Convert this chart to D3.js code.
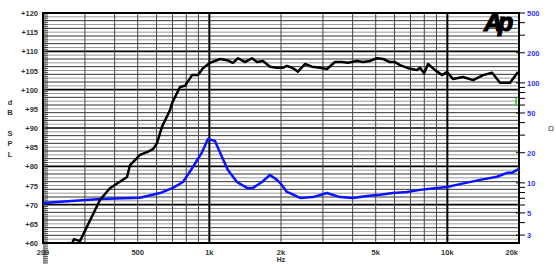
<!DOCTYPE html>
<html>
<head>
<meta charset="utf-8">
<script src="https://cdn.jsdelivr.net/npm/d3@7"></script>
<style>
body { margin: 0; background: #fff; }
text { font-family: "Liberation Sans", "DejaVu Sans", Arial, sans-serif; }
</style>
</head>
<body>
<script>
// SPL response (black), Hz / dB
var splFreq = [265, 270, 286, 347, 382, 451, 464, 487, 511, 547, 580, 602, 632, 684, 697, 753, 790, 846, 896, 940, 1006, 1108, 1186, 1257, 1319, 1412, 1510, 1586, 1680, 1798, 1923,
  2038, 2118, 2245, 2357, 2522, 2698, 2915, 3121, 3371, 3607, 3825, 4170, 4425, 4733, 5064, 5366, 5741, 6027, 6325, 6836, 7455, 7681, 7985, 8298,
  8878, 9495, 9965, 10556, 11640, 12825, 14130, 15415, 16649, 18342, 19810];
var splDb = [60, 61, 60.5, 71.2, 74.3, 77.2, 80.3, 81.6, 83, 83.7, 84.5, 86, 90.3, 94.7, 96.5, 100.7, 101, 103.8, 103.8, 105.6, 107, 108, 107.7, 107, 108.2, 107.2, 108.2, 107.2, 107.5, 106, 105.7,
  105.7, 106.2, 105.6, 104.7, 106.7, 106, 105.7, 105.4, 107.2, 107.2, 107, 107.5, 107.2, 107.5, 108.2, 108, 107.2, 107.2, 106.4, 105.6, 105.1, 105.7, 104.3, 106.7,
  105.1, 103.8, 104.6, 102.8, 103.3, 102.5, 103.8, 104.4, 101.8, 101.8, 104.6];

// Impedance (blue), Hz / ohm
var zFreq = [200, 347, 511, 620, 703, 775, 853, 931, 986, 1056, 1130, 1197, 1306, 1439, 1525, 1664, 1798, 1923, 1981, 2118, 2182, 2404, 2725, 3121, 3540, 4013, 4592, 5212, 5912, 6765, 7681, 8460, 9965, 11300, 13710, 16170, 17820, 18670, 20000];
var zOhm = [6.3, 6.9, 7.1, 7.9, 8.9, 10.2, 14.4, 20.2, 27.5, 26.2, 18.1, 13.4, 10.2, 8.9, 8.9, 10.2, 12, 10.7, 10, 8.1, 7.9, 7.06, 7.2, 7.9, 7.2, 7.06, 7.4, 7.6, 7.9, 8.1, 8.5, 8.7, 9.1, 9.7, 10.7, 11.5, 12.6, 12.6, 13.8];

var dbTicks = [60, 65, 70, 75, 80, 85, 90, 95, 100, 105, 110, 115, 120];
var ohmTicks = [3, 5, 10, 20, 50, 100, 200, 500];
var freqTicks = [200, 500, 1000, 2000, 5000, 10000, 20000];
var freqLabels = ["200", "500", "1k", "2k", "5k", "10k", "20k"];

var w = 556, h = 264;
var mLeft = 43, mRight = 519, mTop = 13, mBottom = 243;

var svg = d3.select("body").append("svg")
  .attr("width", w).attr("height", h);

var x = d3.scaleLog().domain([200, 20000]).range([mLeft, mRight]);
var y = d3.scaleLinear().domain([60, 120]).range([mBottom, mTop]);
var yz = d3.scaleLog().domain([2.5, 500]).range([mBottom, mTop]);

// horizontal grid, 1 dB
var hLines = d3.range(61, 120);
svg.selectAll(".hg").data(hLines).enter().append("line")
  .attr("x1", mLeft).attr("x2", mRight)
  .attr("y1", function(d) { return y(d); }).attr("y2", function(d) { return y(d); })
  .attr("stroke", function(d) { return d % 10 == 0 ? "#000" : (d % 2 == 0 ? "#333" : "#999"); })
  .attr("stroke-width", function(d) { return d % 10 == 0 ? 1.6 : 1; });

// vertical grid
var vLines = [];
[100, 1000, 10000].forEach(function(dec) {
  for (var k = 1; k <= 9; k++) {
    var f = dec * k;
    if (f > 200 && f < 20000) vLines.push(f);
  }
});
svg.selectAll(".vg").data(vLines).enter().append("line")
  .attr("y1", mTop).attr("y2", mBottom)
  .attr("x1", function(d) { return x(d); }).attr("x2", function(d) { return x(d); })
  .attr("stroke", function(d) { return (d == 1000 || d == 10000) ? "#000" : "#444"; })
  .attr("stroke-width", function(d) { return (d == 1000 || d == 10000) ? 2 : 1; });

// left minor ticks band
svg.selectAll(".lt").data(d3.range(120, 481)).enter().append("line")
  .attr("x1", mLeft).attr("x2", function(d) { return mLeft + (d % 2 == 0 ? 5 : 3); })
  .attr("y1", function(d) { return y(d / 4); }).attr("y2", function(d) { return y(d / 4); })
  .attr("stroke", function(d) { return d % 2 == 0 ? "#222" : "#999"; })
  .attr("stroke-width", 0.8);

// frame
svg.append("rect")
  .attr("x", mLeft).attr("y", mTop)
  .attr("width", mRight - mLeft).attr("height", mBottom - mTop)
  .attr("fill", "none").attr("stroke", "#000").attr("stroke-width", 2);

// left axis labels
svg.selectAll(".dbl").data(dbTicks).enter().append("text")
  .attr("x", mLeft - 5).attr("y", function(d) { return y(d) + 3; })
  .attr("text-anchor", "end")
  .attr("font-size", 7.5).attr("font-weight", "bold").attr("fill", "#333")
  .text(function(d) { return "+" + d; });

["d", "B", "", "S", "P", "L"].forEach(function(c, i) {
  svg.append("text").attr("x", 10).attr("y", 105 + i * 10.3)
    .attr("text-anchor", "middle").attr("font-size", 7.5).attr("font-weight", "bold").attr("fill", "#333")
    .text(c);
});

// right axis ticks
var zMinor = [];
[1, 10, 100].forEach(function(dec) {
  for (var k = 1; k <= 9; k++) {
    var v = dec * k;
    if (v >= 3 && v <= 500) zMinor.push(v);
  }
});
svg.selectAll(".zt").data(zMinor).enter().append("line")
  .attr("x1", function(d) { return ohmTicks.indexOf(d) >= 0 ? mRight - 3 : mRight; })
  .attr("x2", mRight + 6)
  .attr("y1", function(d) { return yz(d); }).attr("y2", function(d) { return yz(d); })
  .attr("stroke", "#000").attr("stroke-width", 1);

svg.selectAll(".zl").data(ohmTicks).enter().append("text")
  .attr("x", mRight + 8).attr("y", function(d) { return yz(d) + 3; })
  .attr("font-size", 7.5).attr("font-weight", "bold").attr("fill", "#3333ff")
  .text(function(d) { return d; });

svg.append("text").attr("x", 551).attr("y", 131)
  .attr("text-anchor", "middle").attr("font-size", 8).attr("fill", "#333")
  .text("\u03A9");

// bottom axis labels
svg.selectAll(".fl").data(freqTicks).enter().append("text")
  .attr("x", function(d, i) { return i == freqTicks.length - 1 ? x(d) - 1 : x(d); })
  .attr("y", 255)
  .attr("text-anchor", function(d, i) { return i == freqTicks.length - 1 ? "end" : "middle"; })
  .attr("font-size", 7.5).attr("font-weight", "bold").attr("fill", "#333")
  .text(function(d, i) { return freqLabels[i]; });

svg.append("text").attr("x", x(2000)).attr("y", 262)
  .attr("text-anchor", "middle").attr("font-size", 7).attr("font-weight", "bold").attr("fill", "#333")
  .text("Hz");

// curves
var splData = splFreq.map(function(f, i) { return [f, splDb[i]]; });
var zData = zFreq.map(function(f, i) { return [f, zOhm[i]]; });

svg.append("path").datum(zData)
  .attr("fill", "none").attr("stroke", "#0a14ff").attr("stroke-width", 2.5)
  .attr("stroke-linejoin", "round")
  .attr("d", d3.line().x(function(d) { return x(d[0]); }).y(function(d) { return yz(d[1]); }));

svg.append("path").datum(splData)
  .attr("fill", "none").attr("stroke", "#000").attr("stroke-width", 2.5)
  .attr("stroke-linejoin", "round")
  .attr("d", d3.line().x(function(d) { return x(d[0]); }).y(function(d) { return y(d[1]); }));

// green cursor mark
svg.append("line").attr("x1", 516).attr("x2", 516).attr("y1", 98).attr("y2", 106)
  .attr("stroke", "#22cc22").attr("stroke-width", 1.5);

// Ap logo
svg.append("text").attr("x", 484).attr("y", 31)
  .attr("font-family", "'DejaVu Sans', sans-serif")
  .attr("font-size", 25).attr("font-weight", "900").attr("font-style", "italic")
  .attr("letter-spacing", -4).attr("fill", "#000")
  .attr("stroke", "#000").attr("stroke-width", 1.2)
  .text("Ap");
</script>
</body>
</html>
